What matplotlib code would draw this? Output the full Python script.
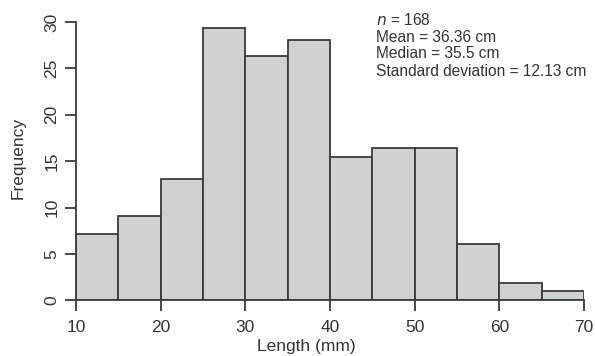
import matplotlib
matplotlib.use("Agg")
import matplotlib.pyplot as plt
import numpy as np

plt.rcParams['font.family'] = ['Liberation Sans', 'DejaVu Sans']

# histogram bins (cm) and bar heights
bin_edges = [10, 15, 20, 25, 30, 35, 40, 45, 50, 55, 60, 65, 70]
counts = [7.1, 9.1, 13.1, 29.3, 26.3, 28.1, 15.4, 16.4, 16.4, 6.1, 1.9, 0.95]
x_ticks = [10, 20, 30, 40, 50, 60, 70]
y_ticks = [0, 5, 10, 15, 20, 25, 30]
stats_lines = [r"$\it{n}$ = 168", "Mean = 36.36 cm", "Median = 35.5 cm",
               "Standard deviation = 12.13 cm"]

dark = "#3a3a3a"
fig = plt.figure(figsize=(5.95, 3.56), dpi=100)
ax = fig.add_axes([76 / 595, 1 - 300.3 / 356, 508 / 595, 278.3 / 356])

left = np.array(bin_edges[:-1])
widths = np.diff(bin_edges)
ax.bar(left, counts, width=widths, align="edge", color="#d0d1d3",
       edgecolor=dark, linewidth=1.3)

ax.set_xlim(10, 70)
ax.set_ylim(0, 30)
for s in ["top", "right"]:
    ax.spines[s].set_visible(False)
ax.spines["left"].set_bounds(0, 30)
ax.spines["bottom"].set_bounds(10, 70)
for s in ["left", "bottom"]:
    ax.spines[s].set_color(dark)
    ax.spines[s].set_linewidth(1.3)

ax.set_xticks(x_ticks)
ax.set_yticks(y_ticks)
ax.set_yticklabels([str(v) for v in y_ticks], rotation=90, va="center")
ax.tick_params(axis="both", length=8, width=1.3, color=dark,
               labelsize=12.5, labelcolor="#333333")
ax.tick_params(axis="y", pad=4)
ax.tick_params(axis="x", pad=6)

fig.text(18 / 595, 1 - 158 / 356, "Frequency", rotation=90, ha="center",
         va="center", fontsize=12.5, color="#333333")
fig.text(306 / 595, 1 - 346 / 356, "Length (mm)", ha="center", va="center",
         fontsize=12.5, color="#333333")

for i, line in enumerate(stats_lines):
    fig.text(376 / 595, 1 - (20 + 17 * i) / 356, line, ha="left",
             va="center", fontsize=11.2, color="#333333")

fig.savefig("out.png", dpi=100)
